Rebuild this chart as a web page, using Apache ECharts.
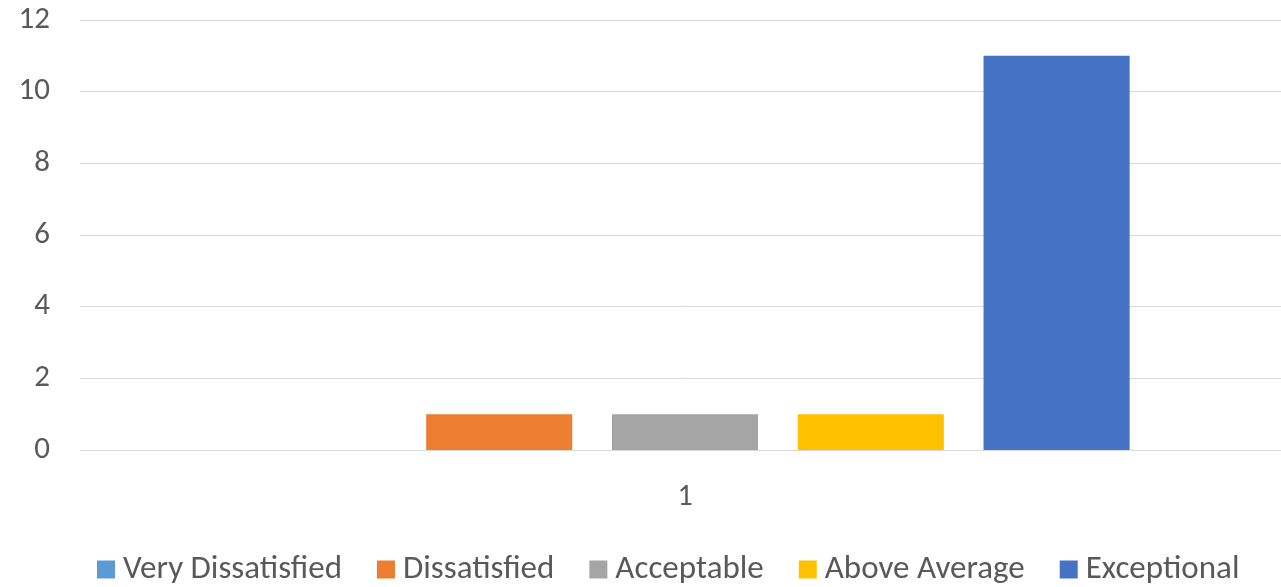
<!DOCTYPE html>
<html>
<head>
<meta charset="utf-8">
<script src="https://cdn.jsdelivr.net/npm/echarts@6/dist/echarts.min.js"></script>
<style>
  html, body { margin: 0; padding: 0; background: #fff; }
  #chart { width: 1281px; height: 587px; }
</style>
</head>
<body>
<div id="chart"></div>
<script>
// Survey responses, one cluster
const categories = ['1'];
const seriesNames = ['Very Dissatisfied', 'Dissatisfied', 'Acceptable', 'Above Average', 'Exceptional'];
const veryDissatisfied = [0];
const dissatisfied = [1];
const acceptable = [1];
const aboveAverage = [1];
const exceptional = [11];
const seriesColors = ['#5B9BD5', '#ED7D31', '#A5A5A5', '#FFC000', '#4472C4'];
const yTicks = { min: 0, max: 12, interval: 2 };

const seriesValues = [veryDissatisfied, dissatisfied, acceptable, aboveAverage, exceptional];
const fontFamily = 'Carlito, Calibri, Lato, sans-serif';
const textColor = '#595959';

const chart = echarts.init(document.getElementById('chart'));
chart.setOption({
  animation: false,
  textStyle: { fontFamily: fontFamily },
  // grid 0 carries the value axis labels and gridlines; grid 1 holds the bars
  grid: [
    { left: 80, top: 20, bottom: 137, right: 0, containLabel: false },
    { left: 89, top: 20, bottom: 137, right: 0, containLabel: false }
  ],
  legend: {
    top: 548,
    left: 92,
    itemWidth: 18,
    itemHeight: 18,
    itemGap: 35,
    icon: 'rect',
    data: seriesNames,
    textStyle: { fontFamily: fontFamily, fontSize: 33, color: textColor, padding: [0, 0, 0, 3] }
  },
  xAxis: [
    { type: 'category', gridIndex: 0, data: categories, show: false },
    {
      type: 'category',
      gridIndex: 1,
      data: categories,
      axisLine: { show: false },
      axisTick: { show: false },
      axisLabel: { fontFamily: fontFamily, fontSize: 30, color: textColor, margin: 32 }
    }
  ],
  yAxis: [
    {
      type: 'value',
      gridIndex: 0,
      min: yTicks.min,
      max: yTicks.max,
      interval: yTicks.interval,
      axisLine: { show: false },
      axisTick: { show: false },
      axisLabel: { fontFamily: fontFamily, fontSize: 31, color: textColor, margin: 30 },
      splitLine: { lineStyle: { color: '#D9D9D9', width: 1 } }
    },
    {
      type: 'value',
      gridIndex: 1,
      min: yTicks.min,
      max: yTicks.max,
      interval: yTicks.interval,
      show: false,
      splitLine: { show: false }
    }
  ],
  series: seriesNames.map((name, i) => ({
    name: name,
    type: 'bar',
    xAxisIndex: 1,
    yAxisIndex: 1,
    data: seriesValues[i],
    barGap: '27.2%',
    barCategoryGap: '25.4%',
    itemStyle: { color: seriesColors[i] }
  }))
});
</script>
</body>
</html>
